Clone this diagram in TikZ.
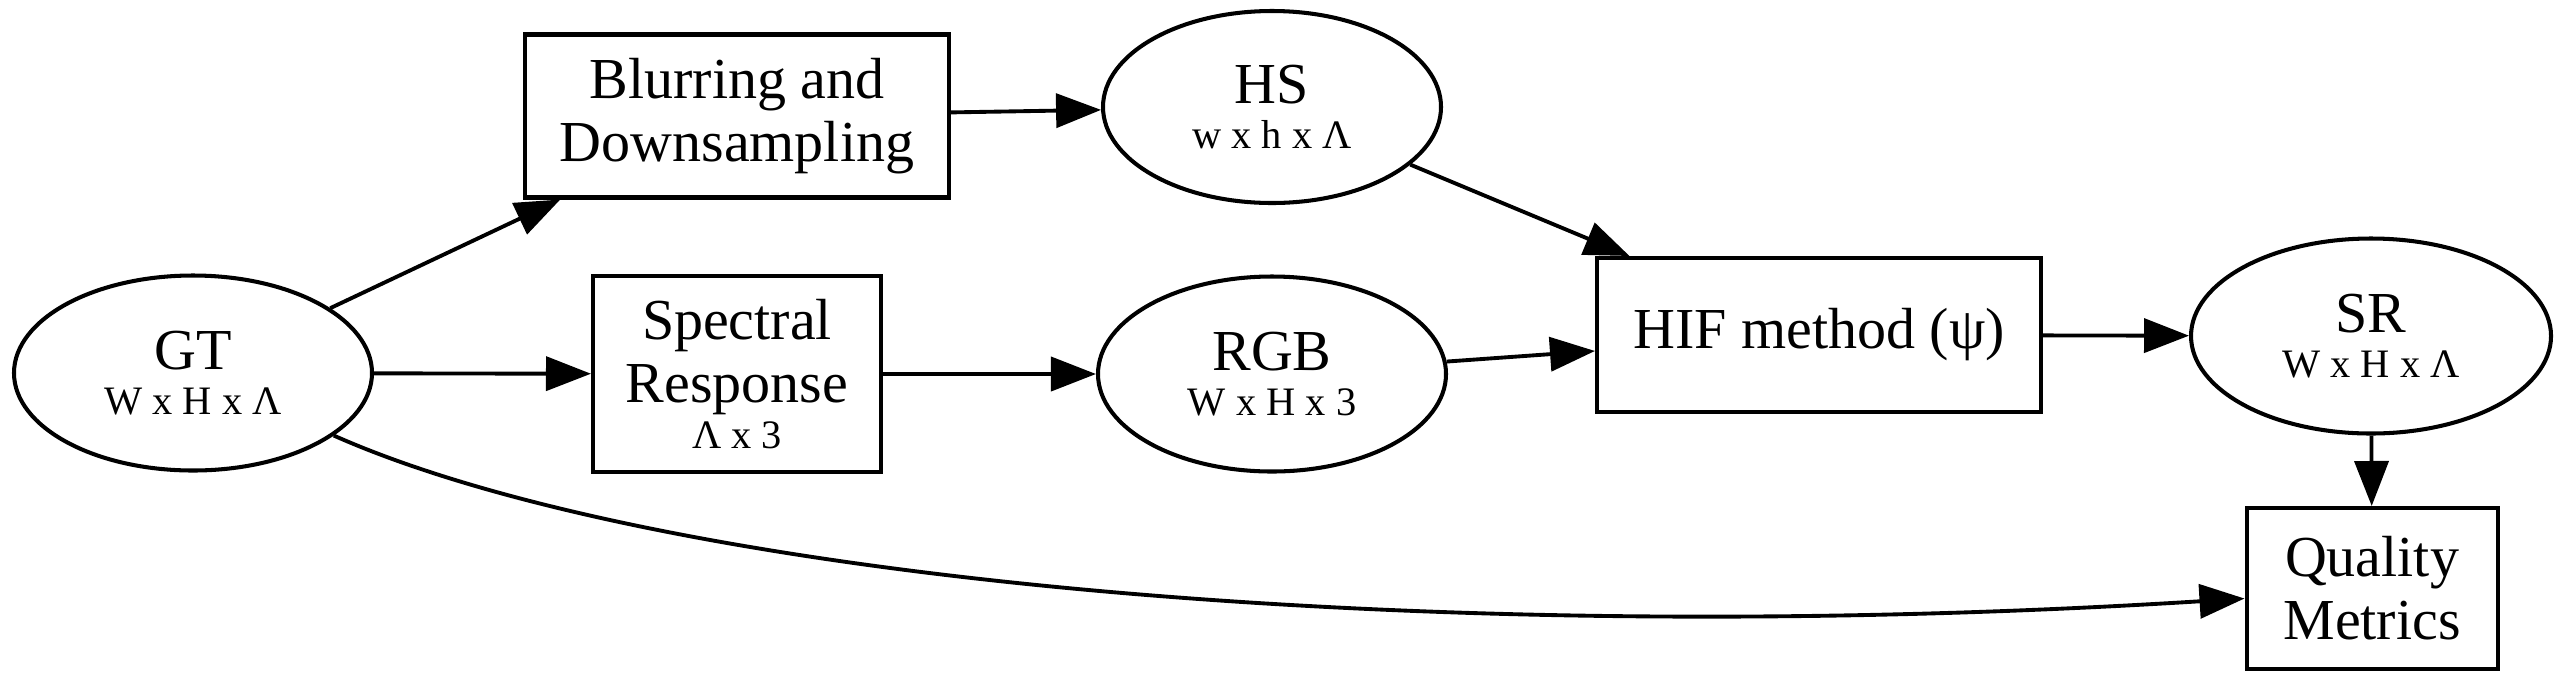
\documentclass[tikz,border=0pt]{standalone}
\usepackage{fontspec}
\setmainfont{Liberation Serif}
\usetikzlibrary{arrows.meta,shapes.geometric,positioning}

\newcommand{\dimtext}[1]{{\fontsize{11.5}{13}\selectfont #1}}

\begin{document}
\begin{tikzpicture}[
    >={Triangle[length=4.5mm, width=3.4mm]},
    every node/.style={font=\fontsize{16.5}{18}\selectfont},
    box/.style={rectangle, draw, line width=1.15pt, align=center, inner sep=2pt},
    data/.style={ellipse, draw, line width=1.15pt, align=center, inner sep=1pt,
                 minimum width=3.5cm, minimum height=1.95cm},
    link/.style={->, line width=1.1pt}
  ]
    \useasboundingbox (0,0) rectangle (25.76,6.86);

    \node[data, minimum width=3.58cm] (gt) at (1.93, 3.13) {GT\\[-5pt]\dimtext{W x H x Λ}};
    \node[box, minimum width=4.24cm, minimum height=1.63cm] (blur) at (7.37, 5.70) {Blurring and\\Downsampling};
    \node[box, minimum width=2.88cm, minimum height=1.96cm] (spectral) at (7.37, 3.12) {Spectral\\Response\\[-5pt]\dimtext{Λ x 3}};
    \node[data, minimum width=3.38cm, minimum height=1.92cm] (hs) at (12.72, 5.79) {HS\\[-5pt]\dimtext{w x h x Λ}};
    \node[data, minimum width=3.48cm] (rgb) at (12.72, 3.12) {RGB\\[-5pt]\dimtext{W x H x 3}};
    \node[box, minimum width=4.44cm, minimum height=1.54cm] (hif) at (18.19, 3.51) {HIF method (ψ)};
    \node[data, minimum width=3.6cm] (sr) at (23.71, 3.50) {SR\\[-5pt]\dimtext{W x H x Λ}};
    \node[box, minimum width=2.51cm, minimum height=1.61cm] (quality) at (23.72, 0.975) {Quality\\Metrics};

    \draw[link] (gt) -- (blur);
    \draw[link] (gt) -- (spectral);
    \draw[link] (blur) -- (hs);
    \draw[link] (spectral) -- (rgb);
    \draw[link] (hs) -- (hif);
    \draw[link] (rgb) -- (hif);
    \draw[link] (hif) -- (sr);
    \draw[link] (sr) -- (quality);
    \draw[link] (gt) .. controls (6.5, 1.1) and (14, 0.35) .. ([yshift=-1mm]quality.west);
\end{tikzpicture}
\end{document}
